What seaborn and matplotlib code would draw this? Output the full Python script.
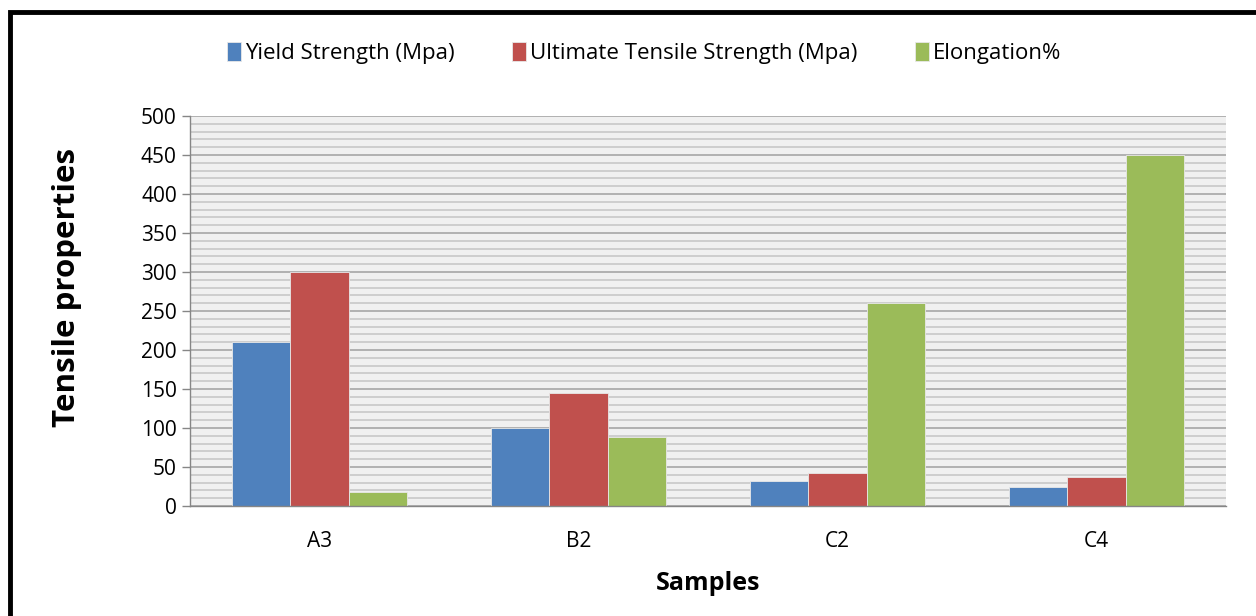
import pandas as pd
import matplotlib
matplotlib.use('Agg')
import matplotlib.pyplot as plt
import seaborn as sns
from matplotlib.patches import Rectangle
from matplotlib.ticker import MultipleLocator, FixedLocator

samples = ['A3', 'B2', 'C2', 'C4']
yield_strength = [210, 100, 32, 24]
uts = [300, 145, 42, 37]
elongation = [18, 89, 260, 450]
series_names = ['Yield Strength (Mpa)', 'Ultimate Tensile Strength (Mpa)', 'Elongation%']
colors = ['#4F81BD', '#C0504D', '#9BBB59']

df = pd.DataFrame({'Samples': samples * 3,
                   'Value': yield_strength + uts + elongation,
                   'Series': [s for s in series_names for _ in samples]})

sns.set_style('white')
plt.rcParams['font.family'] = ['Open Sans', 'DejaVu Sans']
plt.rcParams['text.color'] = 'black'

fig = plt.figure(figsize=(12.56, 6.16), dpi=100)
ax = fig.add_axes([190 / 1256, 1 - 506 / 616, (1226 - 190) / 1256, 390 / 616])

sns.barplot(data=df, x='Samples', y='Value', hue='Series', palette=colors,
            width=0.675, gap=0, saturation=1, ax=ax, legend=True)
for p in ax.patches:
    p.set_edgecolor('#E8E8E8')
    p.set_linewidth(0.6)

ax.set_facecolor('#F0F0F0')
ax.set_xlim(-0.5, 3.5)
ax.set_ylim(0, 500)
ax.yaxis.set_major_locator(MultipleLocator(50))
ax.yaxis.set_minor_locator(MultipleLocator(10))
ax.grid(which='major', axis='y', color='#A6A6A6', lw=1.2)
ax.grid(which='minor', axis='y', color='#C8C8C8', lw=1.2)
ax.set_axisbelow(True)

ax.xaxis.set_minor_locator(FixedLocator([-0.5, 0.5, 1.5, 2.5, 3.5]))
ax.tick_params(axis='x', which='major', length=0, labelsize=15, pad=18,
               labelcolor='black')
ax.tick_params(axis='x', which='minor', length=7, color='#868686', width=1)
ax.tick_params(axis='y', which='major', length=6, color='#868686', width=1,
               labelsize=15, left=True, labelcolor='black')
ax.tick_params(axis='y', which='minor', length=0)
for s in ['top', 'right']:
    ax.spines[s].set_visible(False)
for s in ['left', 'bottom']:
    ax.spines[s].set_color('#868686')
    ax.spines[s].set_linewidth(1)

ax.set_xlabel('Samples', fontsize=18, fontweight='bold', labelpad=14, color='black')
ax.set_ylabel('Tensile properties', fontsize=22.5, fontweight='bold', color='black')
ax.yaxis.set_label_coords(-0.104, 0.56)

handles, labels = ax.get_legend_handles_labels()
ax.legend(handles, labels, loc='center', bbox_to_anchor=(0.513, 1 - 53 / 616),
          bbox_transform=fig.transFigure, ncol=3, frameon=False, fontsize=16,
          handlelength=0.6, handleheight=0.9, handletextpad=0.2, columnspacing=2.6)

fig.patches.append(Rectangle((10 / 1256, -0.05), 1.2, 1 - 12 / 616 + 0.05,
                             transform=fig.transFigure, fill=False,
                             edgecolor='black', lw=3.5))

fig.savefig('out.png', dpi=100)
